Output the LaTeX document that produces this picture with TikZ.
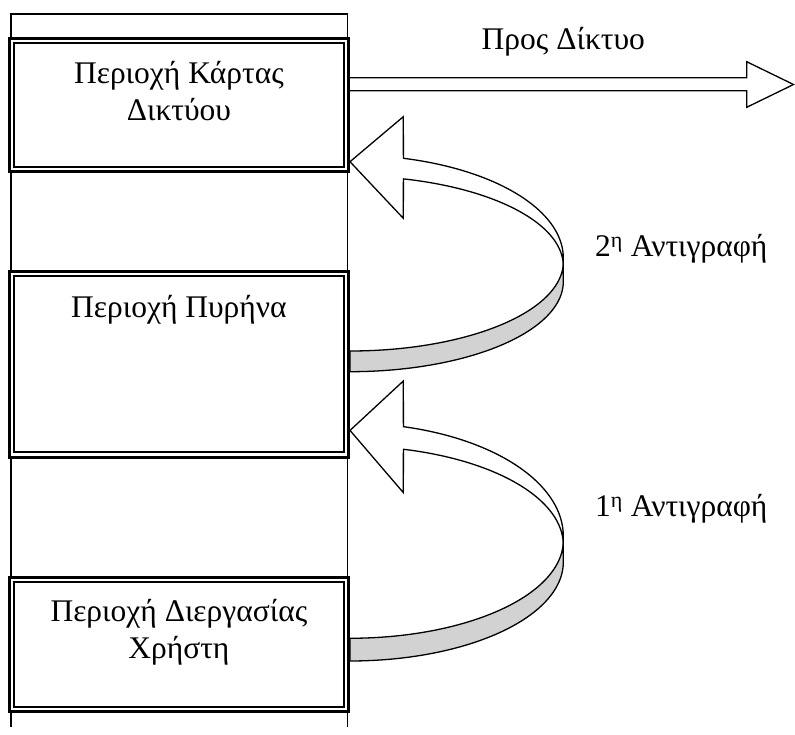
\documentclass[tikz,border=0pt]{standalone}
\usepackage{fontspec}
\setmainfont{Liberation Serif}
\begin{document}
\begin{tikzpicture}[x=1pt,y=-1pt,
  colline/.style={line width=1.2pt},
  boxframe/.style={draw, line width=3pt, fill=white, rectangle, inner sep=0pt, outer sep=0pt, minimum width=338.8pt},
  boxinner/.style={line width=2pt},
  lbl/.style={inner sep=0pt, font=\fontsize{31.5}{37}\selectfont},
  flatarrow/.style={draw, fill=white, line width=1.3pt, line join=miter},
  whiteband/.style={draw, fill=white, line width=1.3pt, line join=miter},
  grayband/.style={draw, fill=gray!35, line width=1.3pt, line join=round}
]
\useasboundingbox (0,0) rectangle (795,734);

% column
\draw[colline] (11,727) -- (11,14) -- (347.7,14) -- (347.7,727);

% straight arrow to network
\draw[flatarrow] (349,77.7) -- (746.7,77.7) -- (746.7,61.7) -- (793.5,84.5)
  -- (746.7,107.3) -- (746.7,90.7) -- (349,90.7);

% curved arrows
\newcommand{\mycurvedarrow}[2]{%
\begin{scope}[shift={(0,#1)}, yscale=#2]
  \filldraw[grayband]
    plot[domain=0:90, samples=60, variable=\t] ({350+213.3*cos(\t)},{145.3+89*sin(\t)})
    -- plot[domain=90:0, samples=60, variable=\t] ({350+213.3*cos(\t)},{165+90*sin(\t)})
    -- cycle;
  \filldraw[whiteband] (403.3,101.6) -- (350,45) -- (403.3,0)
    -- plot[domain=-75.5:0, samples=60, variable=\t] ({350+213.3*cos(\t)},{141.3+103*sin(\t)})
    -- plot[domain=0:-75.5, samples=60, variable=\t] ({350+213.3*cos(\t)},{149.3+90*sin(\t)})
    -- cycle;
\end{scope}}
\mycurvedarrow{116.7}{1}
\mycurvedarrow{381}{1.098}

% boxes
\node[boxframe, minimum height=133.4pt] (b1) at (178.9,105) {};
\node[boxframe, minimum height=186pt] (b2) at (178.9,364) {};
\node[boxframe, minimum height=134.4pt] (b3) at (178.9,644.5) {};
\foreach \b in {b1,b2,b3}{
  \draw[boxinner] ([xshift=4.6pt,yshift=-4.6pt]\b.north west) rectangle ([xshift=-4.6pt,yshift=4.6pt]\b.south east);
}

% texts
\node[lbl, anchor=base] (t1a) at (178.9,83.3) {Περιοχή Κάρτας};
\node[lbl, anchor=base] (t1b) at (178.9,120.3) {Δικτύου};
\node[lbl, anchor=base] (t2) at (178.9,317.3) {Περιοχή Πυρήνα};
\node[lbl, anchor=base] (t3a) at (178.9,621.7) {Περιοχή Διεργασίας};
\node[lbl, anchor=base] (t3b) at (178.9,658.7) {Χρήστη};
\node[lbl, anchor=base] (net) at (563.3,49.3) {Προς Δίκτυο};
\node[lbl, anchor=base west] (c2) at (595,256.7) {2\textsuperscript{η} Αντιγραφή};
\node[lbl, anchor=base west] (c1) at (595,516.7) {1\textsuperscript{η} Αντιγραφή};
\end{tikzpicture}
\end{document}
